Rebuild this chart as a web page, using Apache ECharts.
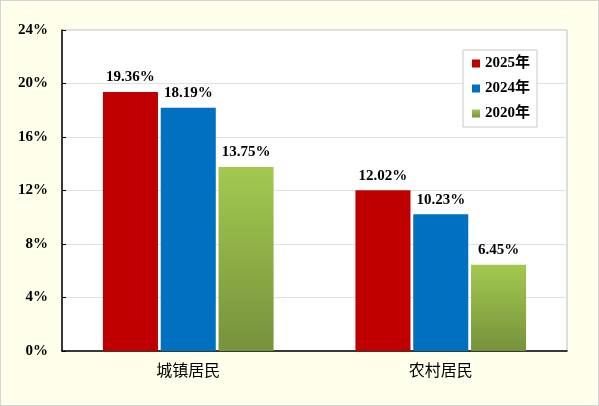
<!DOCTYPE html>
<html><head><meta charset="utf-8">
<script src="https://cdn.jsdelivr.net/npm/echarts@6/dist/echarts.min.js"></script>
<style>
html,body{margin:0;padding:0;}
#c{width:597px;height:404px;border:1px solid #D4D4D4;background:#FFFFEC;}
</style></head><body>
<div id="c"></div>
<script>
var categories = ['城镇居民', '农村居民'];
var s2025 = [19.36, 12.02];
var s2024 = [18.19, 10.23];
var s2020 = [13.75, 6.45];
var seriesNames = ['2025年', '2024年', '2020年'];

var chart = echarts.init(document.getElementById('c'));
var serif = '"Liberation Serif","Times New Roman","Noto Sans CJK SC",serif';
var lbl = {show:true, position:'top', formatter: function(p){return p.value.toFixed(2)+'%';},
  color:'#000', fontFamily:serif, fontWeight:'bold', fontSize:15, distance:7};
chart.setOption({
  animation:false,
  grid:{left:61, right:31, top:29, bottom:54, show:true, borderColor:'#BDBDBD', borderWidth:1, backgroundColor:'#fff'},
  legend:{orient:'vertical', right:61, top:49, itemWidth:8, itemHeight:8, itemGap:10,
    borderColor:'#C8C8C8', borderWidth:1, padding:[6,7,6,9], backgroundColor:'#fff',
    textStyle:{fontFamily:serif, fontWeight:'bold', fontSize:15, color:'#000'},
    data:seriesNames.map(function(n){return {name:n, icon:'rect'};})},
  xAxis:{type:'category', data:categories,
    axisLine:{lineStyle:{color:'#000', width:1.5}}, axisTick:{show:false},
    axisLabel:{fontFamily:serif, fontSize:16, color:'#000', margin:13}},
  yAxis:{type:'value', min:0, max:24, interval:4,
    axisLine:{show:true, lineStyle:{color:'#000', width:1.5}},
    axisTick:{show:true, length:4, inside:true, lineStyle:{color:'#000'}},
    splitLine:{lineStyle:{color:'#E0E0E0'}},
    axisLabel:{formatter:'{value}%', fontFamily:serif, fontWeight:'bold', fontSize:15, color:'#000', margin:14}},
  series:[
    {name:seriesNames[0], type:'bar', data:s2025, barWidth:'21.8%', barGap:'5%', itemStyle:{color:'#C00000'}, label:lbl},
    {name:seriesNames[1], type:'bar', data:s2024, barWidth:'21.8%', barGap:'5%', itemStyle:{color:'#0070C0'}, label:lbl},
    {name:seriesNames[2], type:'bar', data:s2020, barWidth:'21.8%', barGap:'5%',
      itemStyle:{color:new echarts.graphic.LinearGradient(0,0,0,1,[{offset:0,color:'#A3C950'},{offset:1,color:'#76923C'}])}, label:lbl}
  ]
});
</script></body></html>
